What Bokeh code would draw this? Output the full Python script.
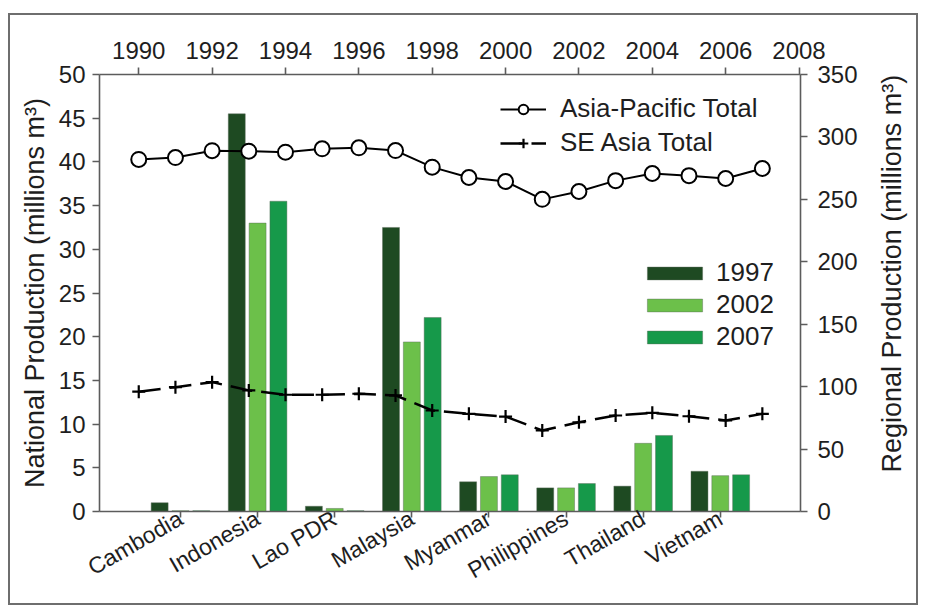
import numpy as np
from math import pi
from bokeh.plotting import figure
from bokeh.layouts import row
from bokeh.models import (Range1d, LinearAxis, FixedTicker, Legend, LegendItem,
                          ColumnDataSource)
from bokeh.core.properties import value
from bokeh.embed import file_html
from bokeh.resources import INLINE

# ---------------- data ----------------
countries = ["Cambodia", "Indonesia", "Lao PDR", "Malaysia",
             "Myanmar", "Philippines", "Thailand", "Vietnam"]
prod_1997 = [1.0, 45.5, 0.6, 32.5, 3.4, 2.7, 2.9, 4.6]
prod_2002 = [0.1, 33.0, 0.35, 19.4, 4.0, 2.7, 7.8, 4.1]
prod_2007 = [0.1, 35.5, 0.1, 22.2, 4.2, 3.2, 8.7, 4.2]

years = list(range(1990, 2008))
asia_pacific_total = [282, 283.5, 289, 288.6, 287.8, 290.5, 291.3, 289.1, 275.8,
                      267.5, 264.3, 250, 256.3, 265, 270.7, 269, 266.7, 274.7]
se_asia_total = [96, 99.6, 103.6, 97, 93.5, 93.5, 94.3, 93, 80.9,
                 78.2, 76, 64.9, 71.5, 76.9, 79, 76.3, 72.9, 78.2]

left_ticks = [0, 5, 10, 15, 20, 25, 30, 35, 40, 45, 50]
right_ticks = [0, 50, 100, 150, 200, 250, 300, 350]
year_ticks = [1990, 1992, 1994, 1996, 1998, 2000, 2002, 2004, 2006, 2008]

left_title = "National Production (millions m³)"
right_title = "Regional Production (millions m³)"

# ---------------- style ----------------
FONT = "Liberation Sans"
TXT = "#1e1e1e"
AX = "#5c5c5c"
C97, C02, C07 = "#1e4a22", "#6cc04a", "#16994a"

slot = np.arange(len(countries)) + 0.5
off, bw = 0.27, 0.22

src = ColumnDataSource(dict(
    x97=slot - off, x02=slot, x07=slot + off,
    p97=prod_1997, p02=prod_2002, p07=prod_2007))

p = figure(width=856, height=588,
           x_range=Range1d(-0.55, 8.54), y_range=Range1d(0, 50),
           output_backend="svg", toolbar_location=None,
           min_border_left=89, min_border_right=66,
           min_border_top=59, min_border_bottom=92)
p.extra_x_ranges = {"yr": Range1d(1988.93, 2008.04)}
p.extra_y_ranges = {"reg": Range1d(0, 350)}

p.xgrid.visible = False
p.ygrid.visible = False
p.outline_line_color = None
p.background_fill_color = "white"

bar_kw = dict(width=bw, line_color="#5a6a5a", line_alpha=0.55, line_width=0.8, source=src)
b97 = p.vbar(x="x97", top="p97", fill_color=C97, **bar_kw)
b02 = p.vbar(x="x02", top="p02", fill_color=C02, **bar_kw)
b07 = p.vbar(x="x07", top="p07", fill_color=C07, **bar_kw)

l_ap = p.line(years, asia_pacific_total, x_range_name="yr", y_range_name="reg",
              line_color="black", line_width=2)
s_ap = p.scatter(years, asia_pacific_total, x_range_name="yr", y_range_name="reg",
                 marker="circle", size=15, fill_color="white",
                 line_color="black", line_width=2)
l_se = p.line(years, se_asia_total, x_range_name="yr", y_range_name="reg",
              line_color="black", line_width=2.5, line_dash="22 9")
s_se = p.scatter(years, se_asia_total, x_range_name="yr", y_range_name="reg",
                 marker="cross", size=13, line_color="black", line_width=2.2)

def style_axis(ax, size="24px"):
    ax.axis_line_color = AX
    ax.axis_line_width = 1.6
    ax.major_tick_line_color = AX
    ax.major_tick_line_width = 1.6
    ax.major_tick_out = 7
    ax.major_tick_in = 0
    ax.minor_tick_line_color = None
    ax.major_label_text_font = FONT
    ax.major_label_text_font_size = size
    ax.major_label_text_color = TXT
    ax.axis_label_text_font = FONT
    ax.axis_label_text_font_size = "27px"
    ax.axis_label_text_font_style = "normal"
    ax.axis_label_text_color = TXT

# bottom (countries)
xax = p.xaxis[0]
xax.ticker = FixedTicker(ticks=list(slot))
xax.major_label_overrides = {float(v): c for v, c in zip(slot, countries)}
xax.major_label_orientation = pi / 6
style_axis(xax, "23px")
xax.major_tick_out = 6
xax.major_label_standoff = -1

# left
yax = p.yaxis[0]
yax.ticker = FixedTicker(ticks=left_ticks)
yax.axis_label = left_title
style_axis(yax)
yax.major_label_standoff = 7
yax.axis_label_standoff = 6

# top (years)
tax = LinearAxis(x_range_name="yr", ticker=FixedTicker(ticks=year_ticks))
style_axis(tax)
tax.major_label_standoff = 9
p.add_layout(tax, "above")

# right (regional)
rax = LinearAxis(y_range_name="reg", ticker=FixedTicker(ticks=right_ticks))
style_axis(rax)
rax.major_label_standoff = 10
p.add_layout(rax, "right")

# legends
leg1 = Legend(items=[LegendItem(label="Asia-Pacific Total", renderers=[l_ap, s_ap]),
                     LegendItem(label="SE Asia Total", renderers=[l_se, s_se])],
              location=(401, 353), padding=0, margin=0, spacing=3,
              glyph_width=46, glyph_height=24, label_height=24, label_standoff=14,
              border_line_color=None, background_fill_alpha=0,
              label_text_font=FONT, label_text_font_size="26px", label_text_color=TXT)
leg2 = Legend(items=[LegendItem(label="1997", renderers=[b97]),
                     LegendItem(label="2002", renderers=[b02]),
                     LegendItem(label="2007", renderers=[b07])],
              location=(541, 159), padding=0, margin=0, spacing=1,
              glyph_width=69, glyph_height=16, label_height=24, label_standoff=7,
              border_line_color=None, background_fill_alpha=0,
              label_text_font=FONT, label_text_font_size="26px", label_text_color=TXT)
p.add_layout(leg1, "center")
p.add_layout(leg2, "center")

# narrow strip on the right carrying the right-hand title (reads bottom to top)
p2 = figure(width=50, height=588, x_range=Range1d(0, 50), y_range=Range1d(0, 588),
            output_backend="svg", toolbar_location=None,
            x_axis_location=None, y_axis_location=None, min_border=0)
p2.xgrid.visible = False
p2.ygrid.visible = False
p2.outline_line_color = None
p2.text(x=[25], y=[320], text=[right_title], angle=pi / 2,
        text_align="center", text_baseline="middle",
        text_font=value(FONT), text_font_size="27px", text_color=TXT)

lay = row(p, p2)
lay.styles = {"border": "2px solid #6e6e6e", "margin": "13px 0px 0px 8px"}

open("out.html", "w").write(file_html(lay, INLINE))
